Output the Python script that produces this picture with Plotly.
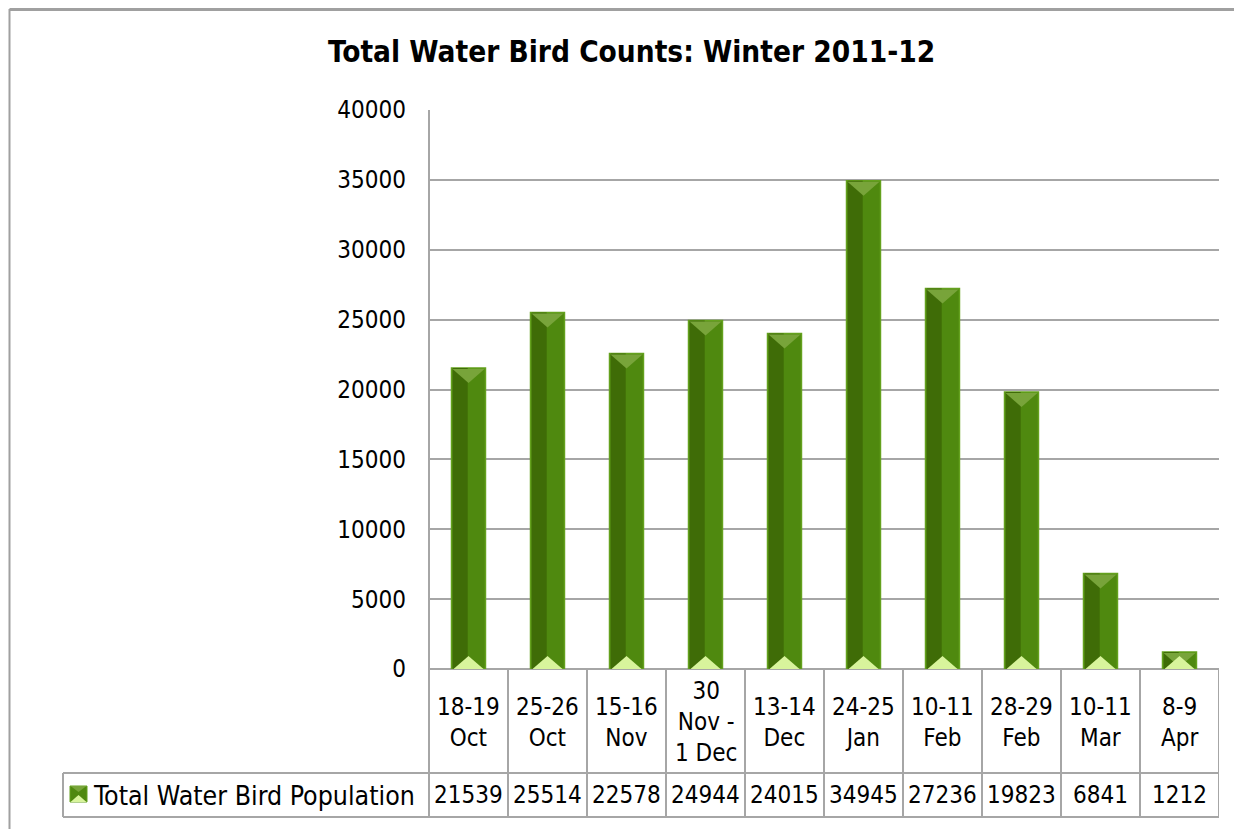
import plotly.graph_objects as go

# ---- data ----
categories = ["18-19<br>Oct", "25-26<br>Oct", "15-16<br>Nov", "30<br>Nov -<br>1 Dec",
              "13-14<br>Dec", "24-25<br>Jan", "10-11<br>Feb", "28-29<br>Feb",
              "10-11<br>Mar", "8-9<br>Apr"]
values = [21539, 25514, 22578, 24944, 24015, 34945, 27236, 19823, 6841, 1212]
series_name = "Total Water Bird Population"
title_text = "Total Water Bird Counts: Winter 2011-12"
y_ticks = [0, 5000, 10000, 15000, 20000, 25000, 30000, 35000, 40000]

W, H = 1242, 829
OFF = 8  # page body offset
FONT = "DejaVu Sans Condensed, DejaVu Sans, sans-serif"
GRID = "#a6a6a6"

def px(x):
    return (x - OFF) / W

def py(y):
    return 1 - (y - OFF) / H

# layout geometry (target pixels)
PL, PR, PT, PB = 429, 1219, 110, 669
ROW1_B = 773
ROW2_B = 817
LEG_L = 63

n = len(values)
xs = list(range(n))

fig = go.Figure()

BAR_W = 0.43
fig.add_trace(go.Bar(x=xs, y=values, width=BAR_W,
                     marker=dict(color="#4f890f", line=dict(color="#64a11e", width=1.5)),
                     hoverinfo="skip", showlegend=False))
fig.add_trace(go.Bar(x=xs, y=values, width=0.19, offset=-0.2,
                     marker=dict(color="#3f6c07", line=dict(width=0)),
                     hoverinfo="skip", showlegend=False))

shapes = []
for i, v in zip(xs, values):
    shapes.append(dict(type="path", xref="x", yref="y", xsizemode="pixel", ysizemode="pixel",
                       xanchor=i, yanchor=v, path="M-16,-1 L16,-1 L0,-15 Z",
                       fillcolor="#78a43a", line=dict(width=0), layer="above"))
    shapes.append(dict(type="path", xref="x", yref="y", xsizemode="pixel", ysizemode="pixel",
                       xanchor=i, yanchor=0, path="M-15,0 L15,0 L0,13 Z",
                       fillcolor="#d8f49c", line=dict(width=0), layer="above"))

# chart border (left and top)
shapes.append(dict(type="line", xref="paper", yref="paper", x0=px(9.5), x1=px(9.5), y0=0, y1=py(9),
                   line=dict(color="#a0a0a0", width=2)))
shapes.append(dict(type="line", xref="paper", yref="paper", x0=px(9.5), x1=1, y0=py(9.5), y1=py(9.5),
                   line=dict(color="#a0a0a0", width=3)))

# y axis line through the table
shapes.append(dict(type="line", xref="paper", yref="paper", x0=px(PL), x1=px(PL), y0=py(PT), y1=py(ROW2_B),
                   line=dict(color=GRID, width=2)))
for k in range(1, n + 1):
    shapes.append(dict(type="line", xref="x", yref="paper", x0=k - 0.5, x1=k - 0.5,
                       y0=py(PB), y1=py(ROW2_B), line=dict(color=GRID, width=2)))
shapes.append(dict(type="line", xref="paper", yref="paper", x0=px(LEG_L), x1=px(PR), y0=py(ROW1_B), y1=py(ROW1_B),
                   line=dict(color=GRID, width=2)))
shapes.append(dict(type="line", xref="paper", yref="paper", x0=px(LEG_L), x1=px(PR), y0=py(ROW2_B), y1=py(ROW2_B),
                   line=dict(color=GRID, width=2)))
shapes.append(dict(type="line", xref="paper", yref="paper", x0=px(LEG_L), x1=px(LEG_L), y0=py(ROW1_B), y1=py(ROW2_B),
                   line=dict(color=GRID, width=2)))
# legend key icon
shapes.append(dict(type="rect", xref="paper", yref="paper", x0=px(70), x1=px(87), y0=py(802), y1=py(786),
                   fillcolor="#4f890f", line=dict(color="#64a11e", width=1)))
shapes.append(dict(type="path", xref="paper", yref="paper", xsizemode="pixel", ysizemode="pixel",
                   xanchor=px(78.5), yanchor=py(802), path="M-8,0 L8,0 L0,7 Z",
                   fillcolor="#d8f49c", line=dict(width=0)))
shapes.append(dict(type="path", xref="paper", yref="paper", xsizemode="pixel", ysizemode="pixel",
                   xanchor=px(78.5), yanchor=py(786), path="M-8,0 L8,0 L0,-6 Z",
                   fillcolor="#78a43a", line=dict(width=0)))

annotations = []
for i, c in zip(xs, categories):
    annotations.append(dict(x=i, y=py((PB + ROW1_B) / 2 + 1), xref="x", yref="paper", text=c,
                            showarrow=False, xanchor="center", yanchor="middle", align="center",
                            font=dict(family=FONT, size=24, color="#000000")))
for i, v in zip(xs, values):
    annotations.append(dict(x=i, y=py((ROW1_B + ROW2_B) / 2), xref="x", yref="paper", text=str(v),
                            showarrow=False, xanchor="center", yanchor="middle",
                            font=dict(family=FONT, size=24, color="#000000")))
annotations.append(dict(x=px(91), y=py((ROW1_B + ROW2_B) / 2), xref="paper", yref="paper", text=series_name,
                        showarrow=False, xanchor="left", yanchor="middle",
                        font=dict(family=FONT, size=26.5, color="#000000")))
annotations.append(dict(x=px(631), y=py(52), xref="paper", yref="paper", text="<b>" + title_text + "</b>",
                        showarrow=False, xanchor="center", yanchor="middle",
                        font=dict(family=FONT, size=29.5, color="#000000")))

fig.update_layout(
    width=W, height=H,
    margin=dict(l=0, r=0, t=0, b=0, autoexpand=False),
    paper_bgcolor="white", plot_bgcolor="white",
    barmode="overlay",
    showlegend=False,
    font=dict(family=FONT, size=24, color="#000000"),
    xaxis=dict(domain=[px(PL), px(PR)], range=[-0.5, n - 0.5], showticklabels=False,
               showgrid=False, zeroline=False, showline=False, fixedrange=True, automargin=False),
    yaxis=dict(domain=[py(PB), py(PT)], range=[0, 40000], tickvals=y_ticks,
               ticktext=[str(t) for t in y_ticks], showgrid=True, gridcolor=GRID, gridwidth=2,
               zeroline=True, zerolinecolor=GRID, zerolinewidth=2, showline=False,
               ticks="", ticklabelstandoff=22, automargin=False,
               tickfont=dict(family=FONT, size=24, color="#000000"), fixedrange=True),
    shapes=shapes,
    annotations=annotations,
)

fig.write_html("out.html")
